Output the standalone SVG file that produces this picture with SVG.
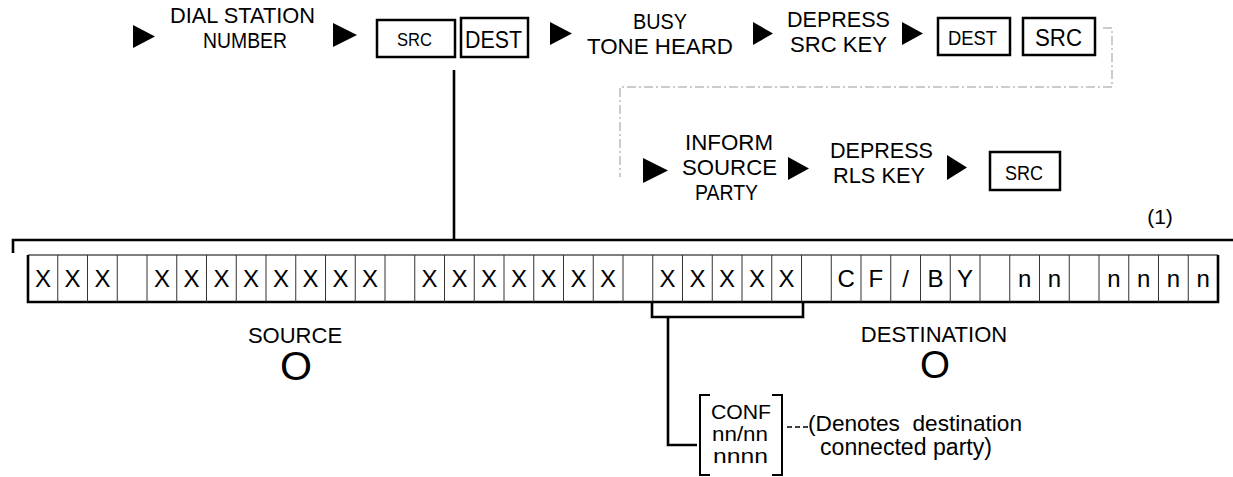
<svg xmlns="http://www.w3.org/2000/svg" width="1233" height="477" viewBox="0 0 1233 477">
<style>
text{font-family:"Liberation Sans",Arial,Helvetica,sans-serif;fill:#000}
.lb{font-size:22px}
.cell{font-size:24px;text-anchor:middle}
.bt{font-size:22px}
.cf{font-size:19.5px}
.box{fill:none;stroke:#000;stroke-width:2.5}
.tri{fill:#000}
.thick{fill:none;stroke:#000;stroke-width:2.6}
.thin{fill:none;stroke:#000;stroke-width:2}
.dash{fill:none;stroke:#999;stroke-width:1;stroke-dasharray:9 3 2 3}
.div{fill:none;stroke:#333;stroke-width:1}
</style>
<rect width="1233" height="477" fill="#fff"/>

<g id="connectors">
  <path class="dash" d="M1103,28 H1112 V87 H620 V177"/>
  <path class="thick" d="M454,70 V240"/>
  <path class="thick" d="M13,253 V240 H1233"/>
  <path class="thick" d="M652,302 V317 H803 V302"/>
  <path class="thick" d="M668,317 V445 H697"/>
  <path fill="none" stroke="#000" stroke-width="1.6" stroke-dasharray="5 3" d="M787,427 H808"/>
</g>

<g id="step-dial">
  <polygon class="tri" points="133,25 155,36.5 133,48"/>
  <text class="lb" x="170" y="23" textLength="145" lengthAdjust="spacingAndGlyphs">DIAL STATION</text>
  <text class="lb" x="203" y="48" textLength="84" lengthAdjust="spacingAndGlyphs">NUMBER</text>
</g>
<g id="step-display1">
  <polygon class="tri" points="333,23 357,35 333,47"/>
  <rect class="box" x="377" y="20" width="78" height="37"/>
  <text x="397" y="46" style="font-size:18px" textLength="35" lengthAdjust="spacingAndGlyphs">SRC</text>
  <rect class="box" x="461" y="18" width="67" height="39"/>
  <text x="465" y="48" style="font-size:23px" textLength="57" lengthAdjust="spacingAndGlyphs">DEST</text>
</g>
<g id="step-busy">
  <polygon class="tri" points="550,22 572,33.5 550,45"/>
  <text class="lb" x="633" y="29" textLength="54" lengthAdjust="spacingAndGlyphs">BUSY</text>
  <text class="lb" x="587" y="54" textLength="146" lengthAdjust="spacingAndGlyphs">TONE HEARD</text>
</g>
<g id="step-depress-src">
  <polygon class="tri" points="753,22 773,33.5 753,45"/>
  <text class="lb" x="787" y="27" textLength="103" lengthAdjust="spacingAndGlyphs">DEPRESS</text>
  <text class="lb" x="790" y="52" textLength="97" lengthAdjust="spacingAndGlyphs">SRC KEY</text>
</g>
<g id="step-display2">
  <polygon class="tri" points="902,22 923,33.5 902,45"/>
  <rect class="box" x="938" y="18" width="72" height="37"/>
  <text x="948" y="45" style="font-size:20px" textLength="49" lengthAdjust="spacingAndGlyphs">DEST</text>
  <rect class="box" x="1023" y="18" width="72" height="37"/>
  <text x="1035" y="46" style="font-size:24px" textLength="47" lengthAdjust="spacingAndGlyphs">SRC</text>
</g>
<g id="step-inform">
  <polygon class="tri" points="643,158 668,170.5 643,183"/>
  <text class="lb" x="685" y="150" textLength="88" lengthAdjust="spacingAndGlyphs">INFORM</text>
  <text class="lb" x="682" y="175" textLength="95" lengthAdjust="spacingAndGlyphs">SOURCE</text>
  <text class="lb" x="695" y="200" textLength="63" lengthAdjust="spacingAndGlyphs">PARTY</text>
</g>
<g id="step-depress-rls">
  <polygon class="tri" points="788,157 809,168.5 788,180"/>
  <text class="lb" x="830" y="158" textLength="103" lengthAdjust="spacingAndGlyphs">DEPRESS</text>
  <text class="lb" x="833" y="183" textLength="92" lengthAdjust="spacingAndGlyphs">RLS KEY</text>
</g>
<g id="step-display3">
  <polygon class="tri" points="947,155 967,167.5 947,180"/>
  <rect class="box" x="990" y="152" width="70" height="38"/>
  <text x="1005" y="180" style="font-size:20px" textLength="38" lengthAdjust="spacingAndGlyphs">SRC</text>
</g>

<g id="label-1">
  <text x="1160" y="224" style="font-size:21px" text-anchor="middle">(1)</text>
</g>

<g id="display-bar">
  <path fill="none" stroke="#000" stroke-width="1.2" d="M28,255 H1218"/>
  <path fill="none" stroke="#000" stroke-width="2.6" d="M28,255 V302 H1218 V255"/>
  <path class="div" d="M57.75,255V302M87.5,255V302M117.25,255V302M147,255V302M176.75,255V302M206.5,255V302M236.25,255V302M266,255V302M295.75,255V302M325.5,255V302M355.25,255V302M385,255V302M414.75,255V302M444.5,255V302M474.25,255V302M504,255V302M533.75,255V302M563.5,255V302M593.25,255V302M623,255V302M652.75,255V302M682.5,255V302M712.25,255V302M742,255V302M771.75,255V302M801.5,255V302M831.25,255V302M861,255V302M890.75,255V302M920.5,255V302M950.25,255V302M980,255V302M1009.75,255V302M1039.5,255V302M1069.25,255V302M1099,255V302M1128.75,255V302M1158.5,255V302M1188.25,255V302"/>
  <text class="cell" x="42.9" y="287">X</text>
  <text class="cell" x="72.6" y="287">X</text>
  <text class="cell" x="102.4" y="287">X</text>
  <text class="cell" x="161.9" y="287">X</text>
  <text class="cell" x="191.6" y="287">X</text>
  <text class="cell" x="221.4" y="287">X</text>
  <text class="cell" x="251.1" y="287">X</text>
  <text class="cell" x="280.9" y="287">X</text>
  <text class="cell" x="310.6" y="287">X</text>
  <text class="cell" x="340.4" y="287">X</text>
  <text class="cell" x="370.1" y="287">X</text>
  <text class="cell" x="429.6" y="287">X</text>
  <text class="cell" x="459.4" y="287">X</text>
  <text class="cell" x="489.1" y="287">X</text>
  <text class="cell" x="518.9" y="287">X</text>
  <text class="cell" x="548.6" y="287">X</text>
  <text class="cell" x="578.4" y="287">X</text>
  <text class="cell" x="608.1" y="287">X</text>
  <text class="cell" x="667.6" y="287">X</text>
  <text class="cell" x="697.4" y="287">X</text>
  <text class="cell" x="727.1" y="287">X</text>
  <text class="cell" x="756.9" y="287">X</text>
  <text class="cell" x="786.6" y="287">X</text>
  <text class="cell" x="846.1" y="287">C</text>
  <text class="cell" x="875.9" y="287">F</text>
  <text class="cell" x="905.6" y="287">/</text>
  <text class="cell" x="935.4" y="287">B</text>
  <text class="cell" x="965.1" y="287">Y</text>
  <text class="cell" x="1024.6" y="287">n</text>
  <text class="cell" x="1054.4" y="287">n</text>
  <text class="cell" x="1113.9" y="287">n</text>
  <text class="cell" x="1143.6" y="287">n</text>
  <text class="cell" x="1173.4" y="287">n</text>
  <text class="cell" x="1203.1" y="287">n</text>
</g>

<g id="source-label">
  <text class="bt" x="295" y="343" text-anchor="middle">SOURCE</text>
  <text x="296" y="380" text-anchor="middle" style="font-size:40px" textLength="32" lengthAdjust="spacingAndGlyphs">O</text>
</g>
<g id="destination-label">
  <text class="bt" x="934" y="342" text-anchor="middle">DESTINATION</text>
  <text x="935" y="378" text-anchor="middle" style="font-size:38px" textLength="30" lengthAdjust="spacingAndGlyphs">O</text>
</g>

<g id="conf-note">
  <path class="thin" d="M710,395 H700 V475 H710"/>
  <path class="thin" d="M772,395 H782 V475 H772"/>
  <text class="cf" x="711" y="419" textLength="60" lengthAdjust="spacingAndGlyphs">CONF</text>
  <text class="cf" x="712" y="441" textLength="56" lengthAdjust="spacingAndGlyphs">nn/nn</text>
  <text class="cf" x="713" y="463" textLength="55" lengthAdjust="spacingAndGlyphs">nnnn</text>
  <text x="808" y="431" style="font-size:22.5px" xml:space="preserve" textLength="214" lengthAdjust="spacingAndGlyphs">(Denotes  destination</text>
  <text x="820" y="455" style="font-size:23px" textLength="172" lengthAdjust="spacingAndGlyphs">connected party)</text>
</g>
</svg>
